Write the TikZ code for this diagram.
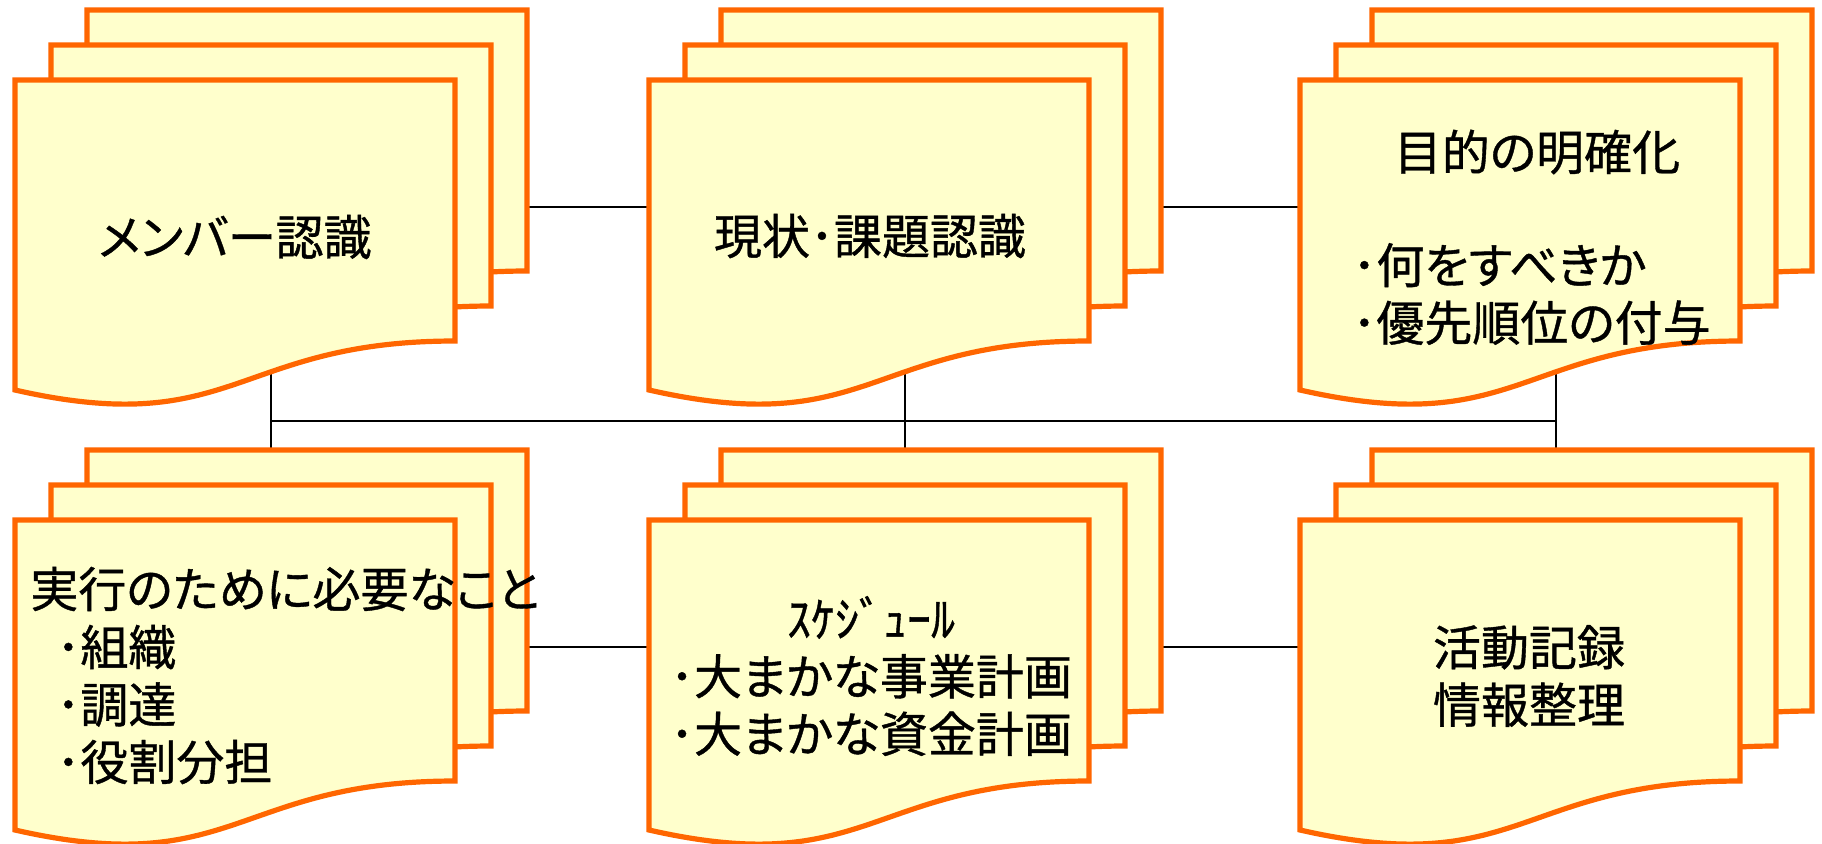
\documentclass[tikz,border=0pt]{standalone}
\usepackage{fontspec}
\setmainfont{Noto Sans CJK JP}[RawFeature=+palt, FakeBold=0.8]
\definecolor{sheetorange}{RGB}{255,102,0}
\definecolor{sheetfill}{RGB}{255,255,204}
\tikzset{
  sheet/.style={draw=sheetorange, fill=sheetfill, line width=2.6pt, line join=miter},
  grp/.style={draw=none, inner sep=0pt, minimum width=256pt, minimum height=197pt},
  link/.style={draw=black, line width=0.6pt},
  txt/.style={font=\fontsize{24}{28.75}\selectfont, inner sep=0pt},
}
\newcommand{\docsheet}[2]{%
  \begin{scope}[shift={(#1,#2)}]
    \draw[sheet] (0,0) -- (440,0) -- (440,261)
      .. controls (220,261) and (220,360) .. (0,310) -- cycle;
  \end{scope}}
\newcommand{\docstack}[2]{%
  \docsheet{#1+72}{#2-70}\docsheet{#1+36}{#2-35}\docsheet{#1}{#2}}
\begin{document}
\begin{tikzpicture}[x=0.5pt, y=-0.5pt]
  \useasboundingbox (0,0) rectangle (1822,843);
  % group placeholders (for connectors)
  \node[grp] (g1) at (271,207) {};
  \node[grp] (g2) at (905,207) {};
  \node[grp] (g3) at (1556,207) {};
  \node[grp] (b1) at (271,647) {};
  \node[grp] (b2) at (905,647) {};
  \node[grp] (b3) at (1556,647) {};
  \coordinate (bus) at (0,421);
  % connectors (behind the sheets)
  \draw[link] (g1.center) -- (g2.center) -- (g3.center);
  \draw[link] (b1.center) -- (b2.center) -- (b3.center);
  \draw[link] (g1.center) -- (b1.center);
  \draw[link] (g2.center) -- (b2.center);
  \draw[link] (g3.center) -- (b3.center);
  \draw[link] (g1.center |- bus) -- (g3.center |- bus);
  % sheet stacks
  \docstack{15}{80}
  \docstack{649}{80}
  \docstack{1300}{80}
  \docstack{15}{520}
  \docstack{649}{520}
  \docstack{1300}{520}
  % texts
  \node[txt] (t1) at (235,237) {メンバー認識};
  \node[txt] (t2) at (870,236) {現状･課題認識};
  \node[txt] (t3a) at (1537,152) {目的の明確化};
  \node[txt, anchor=west, align=left] (t3b) at (1352,294) {･何をすべきか\\･優先順位の付与};
  \node[txt, anchor=west] (t4a) at (30,589) {実行のために必要なこと};
  \node[txt, anchor=west, align=left] (t4b) at (56,704.5) {･組織\\･調達\\･役割分担};
  \node[txt, align=center] (t5) at (871,676) {ｽｹｼﾞｭｰﾙ\\･大まかな事業計画\\･大まかな資金計画};
  \node[txt, align=center] (t6) at (1529,676) {活動記録\\情報整理};
\end{tikzpicture}
\end{document}
